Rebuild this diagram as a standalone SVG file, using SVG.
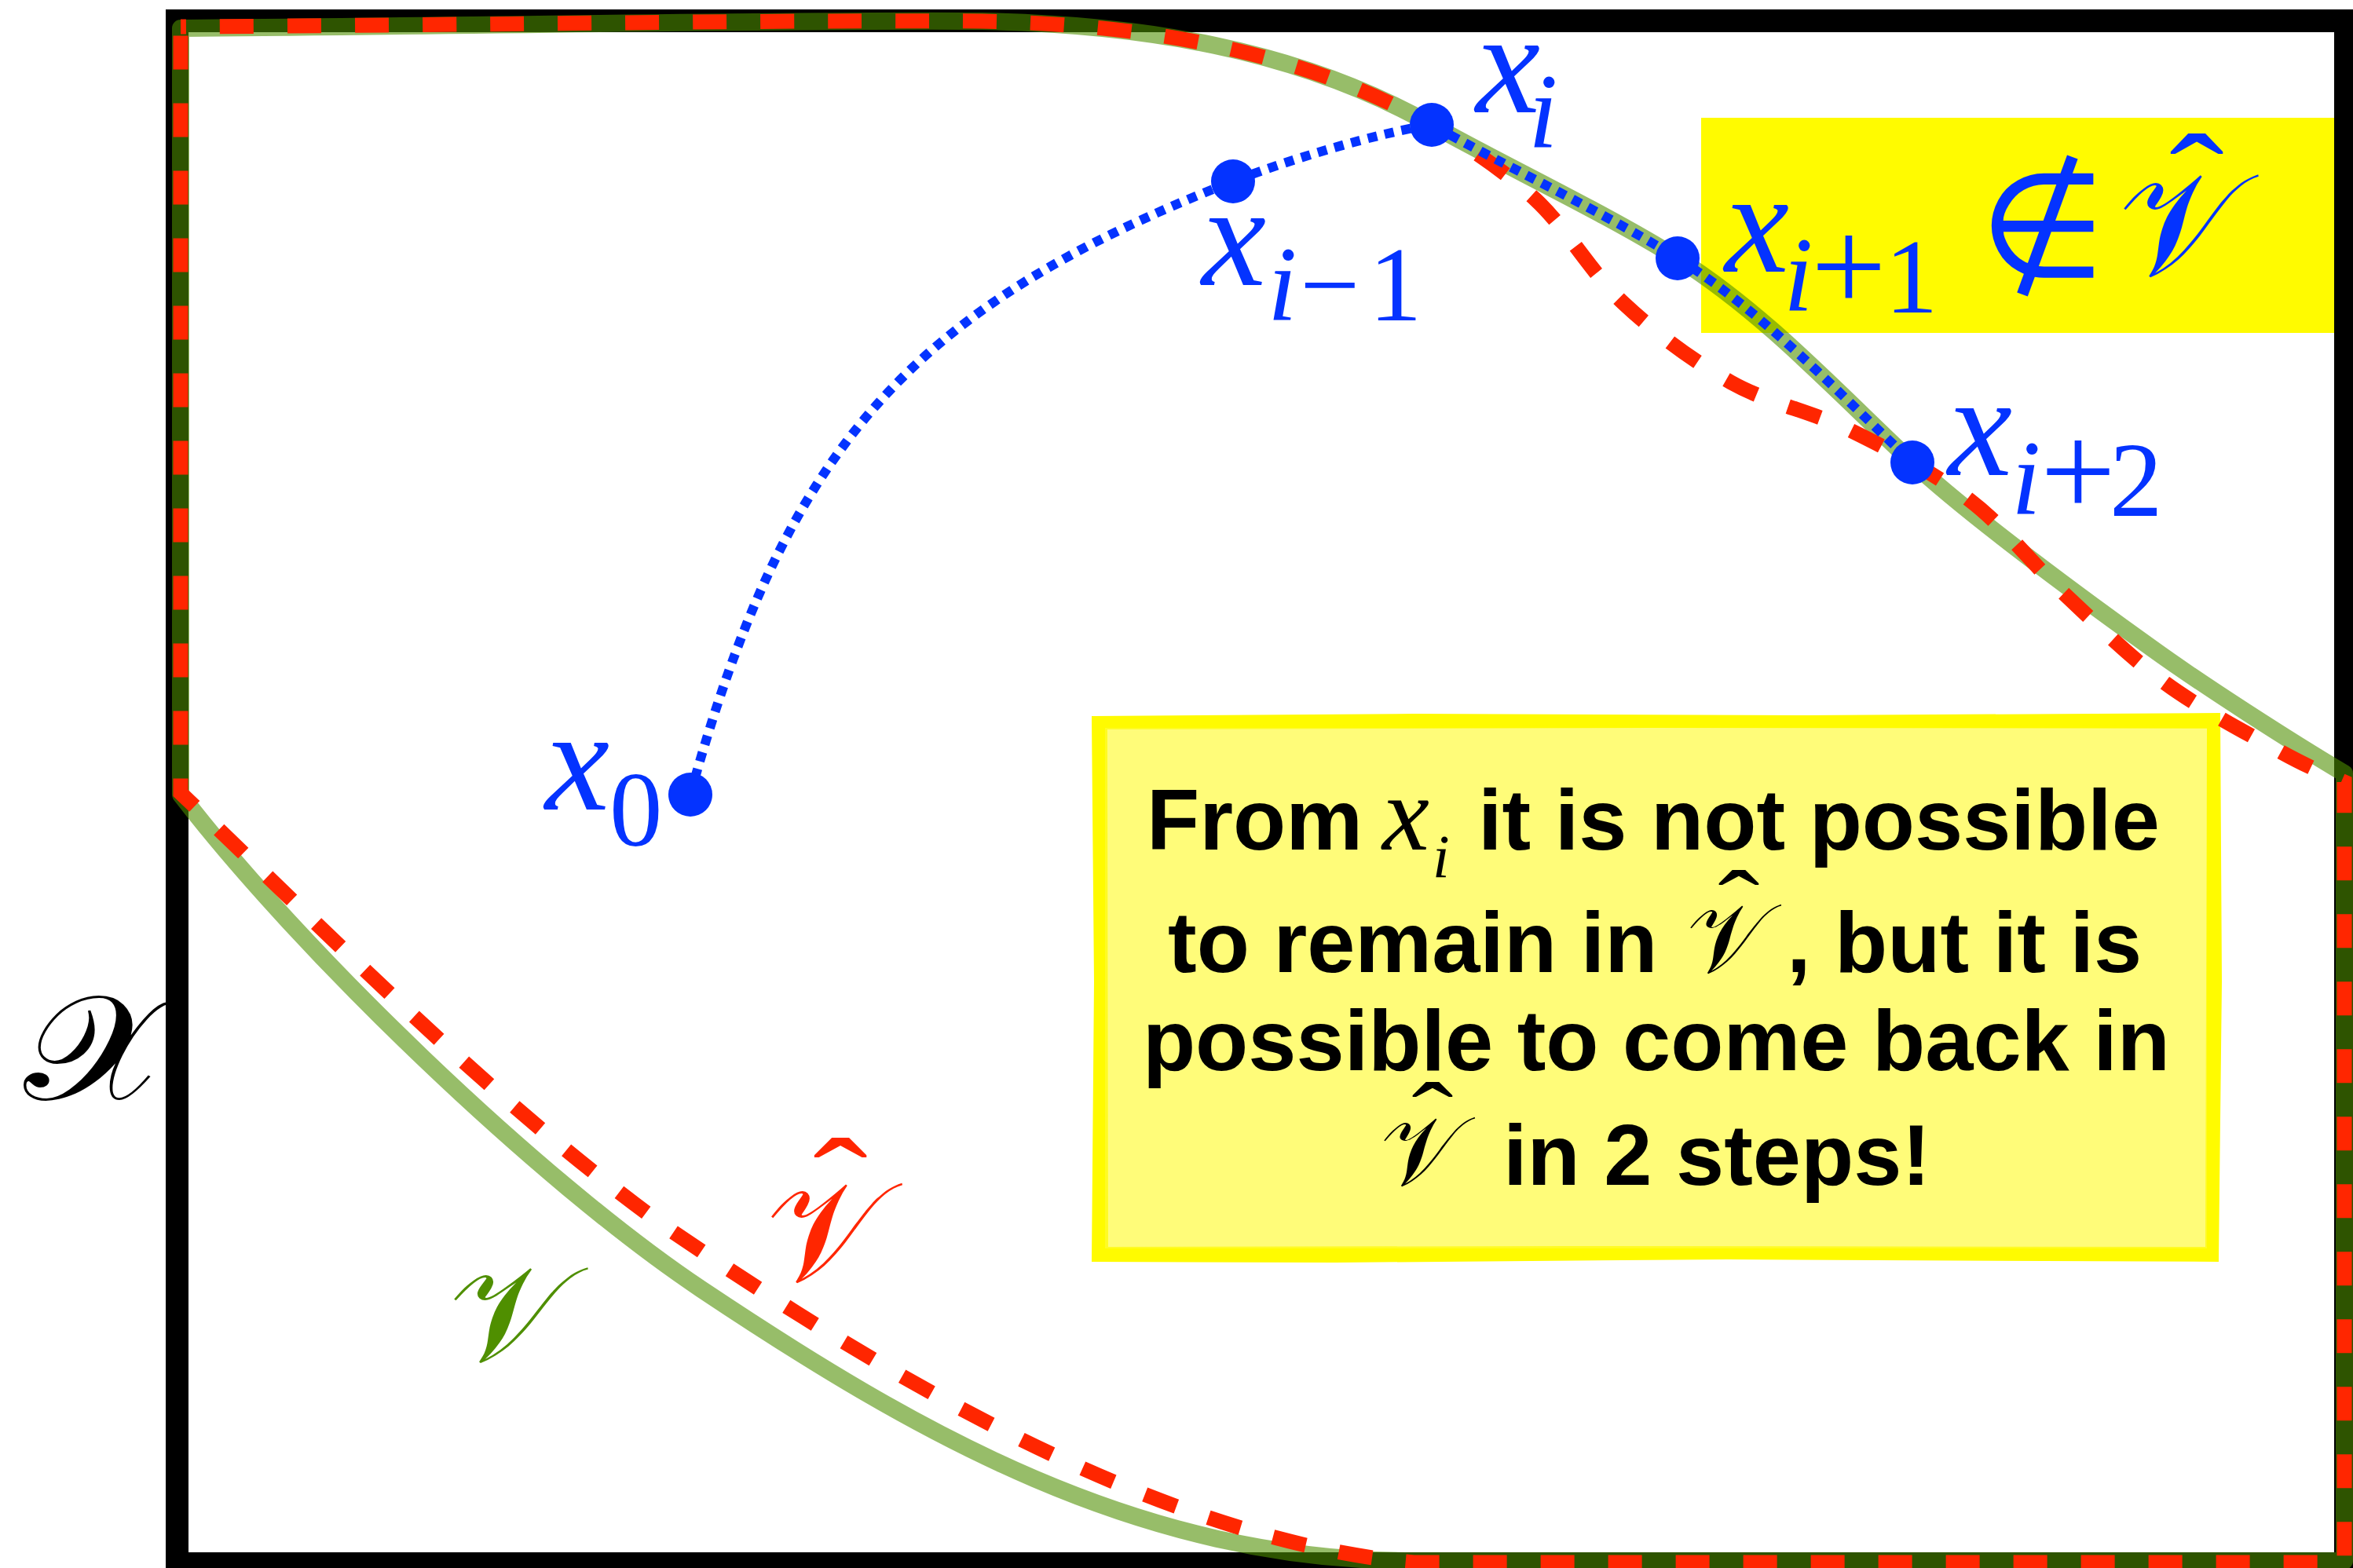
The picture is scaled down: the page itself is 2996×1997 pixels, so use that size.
<svg xmlns="http://www.w3.org/2000/svg" width="2996" height="1997" viewBox="0 0 2996 1997">
<style>
.frame{fill:none;stroke:#000;stroke-width:29}
.vset{fill:none;stroke:#4F8F00;stroke-opacity:0.59;stroke-width:22;stroke-linejoin:round}
.vhat{fill:none;stroke:#FF2600;stroke-width:19;stroke-dasharray:43 43;stroke-dashoffset:36}
.traj{fill:none;stroke:#0433FF;stroke-width:12;stroke-dasharray:12 10}
.pt{fill:#0433FF}
.m{font-family:"Liberation Serif","Times New Roman",serif;fill:#0433FF}
.it{font-style:italic}
.scr{font-family:"DejaVu Serif","DejaVu Sans",serif;font-style:normal}
.hat{font-family:"Liberation Serif","Times New Roman",serif;text-anchor:middle}
.note{font-family:"Liberation Sans",Arial,Helvetica,sans-serif;font-weight:bold;font-size:110px;fill:#000}
</style>
<rect width="2996" height="1997" fill="#fff"/>
<g id="box-notin">
<rect x="2166" y="150" width="820" height="274" fill="#FFFB00"/>
</g>
<g id="frame-X">
<rect class="frame" x="225.5" y="26.5" width="2761" height="1965"/>
</g>
<g id="note-box">
<rect x="1400" y="920" width="1417" height="677" fill="#FFFC79" stroke="#FFFB00" stroke-width="14"/>
<path d="M1393 915 L1800 912 L2300 914 L2824 911 L2826 1250 L2822 1604 L2200 1601 L1700 1605 L1393 1604 L1396 1250 Z" fill="none" stroke="#FFFB00" stroke-width="6"/>
<path d="M1408 927 L2100 925 L2812 926 L2810 1590 L2000 1589 L1409 1590 Z" fill="none" stroke="#FFFB00" stroke-width="4" stroke-opacity="0.7"/>
</g>
<g id="connectors">
<path id="set-V" class="vset" d="M230 36 C600 33 1000 25 1250 27 C1450 31 1649 61 1823 159 C1914 210 2047 273 2136 329 C2246 398 2340 500 2435 589 C2508 657 2658 767 2739 825 C2804 872 2916 944 2985 985 L2985 1988 L1800 1988 C1450 1988 1167 1825 893 1642 C685 1503 382 1210 230 1012 Z"/>
<path id="set-Vhat" class="vhat" d="M230 34 C600 32 1000 25 1250 27 C1450 31 1649 61 1823 159 C1865.5 184.7 1914.3 216.2 1955 254 C1995.7 291.8 2025.5 347.2 2067 386 C2108.5 424.8 2155.5 459.8 2204 487 C2252.5 514.2 2307.3 524 2358 549 C2408.7 574 2463.2 602.7 2508 637 C2552.8 671.3 2585.5 716.2 2627 755 C2668.5 793.8 2711 836.3 2757 870 C2803 903.7 2865 936 2903 957 C2941 978 2960 985 2985 996 L2985 1990 L1800 1990 C1480 1962 1130 1755 851 1565 C626 1403 431 1201 230 1010 Z"/>
<path id="trajectory" class="traj" d="M879 1012 C999 578 1152 393 1570 231 C1644 202 1760 168 1823 159 C1914 210 2047 273 2136 329 C2246 398 2340 500 2435 589"/>
</g>
<g id="x0"><circle class="pt" cx="879" cy="1012" r="28"/>
<text class="m" font-size="185"><tspan class="it" x="694" y="1031">x</tspan><tspan x="776" y="1077" font-size="135">0</tspan></text></g>
<g id="xim1"><circle class="pt" cx="1570" cy="231" r="28"/>
<text class="m" font-size="185"><tspan class="it" x="1530" y="363">x</tspan><tspan class="it" x="1614" y="408" font-size="135">i</tspan><tspan x="1655" y="408" font-size="135">−</tspan><tspan x="1743" y="408" font-size="135">1</tspan></text></g>
<g id="xi"><circle class="pt" cx="1823" cy="159" r="28"/>
<text class="m" font-size="185"><tspan class="it" x="1879" y="143">x</tspan><tspan class="it" x="1946" y="188" font-size="135">i</tspan></text></g>
<g id="xip1"><circle class="pt" cx="2136" cy="329" r="28"/>
<text class="m" font-size="185"><tspan class="it" x="2196" y="346">x</tspan><tspan class="it" x="2271" y="396" font-size="135">i</tspan><tspan x="2306" y="396" font-size="170">+</tspan><tspan x="2400" y="398" font-size="135">1</tspan></text>
<text class="m" x="2520" y="352" font-size="185" font-family="Liberation Serif,DejaVu Serif,serif">∉</text>
<text class="m scr" x="2698" y="350" font-size="185">𝒱</text>
<text class="m hat" transform="translate(2797 291) scale(1 0.83)" font-size="210">ˆ</text></g>
<g id="xip2"><circle class="pt" cx="2435" cy="589" r="28"/>
<text class="m" font-size="185"><tspan class="it" x="2480" y="605">x</tspan><tspan class="it" x="2561" y="655" font-size="135">i</tspan><tspan x="2598" y="657" font-size="170">+</tspan><tspan x="2686" y="657" font-size="135">2</tspan></text></g>
<g id="label-X"><text class="scr" transform="translate(30 1400) scale(1.15 1)" font-size="188" fill="#000">𝒳</text></g>
<g id="label-V"><text class="scr" transform="translate(572 1733) scale(1.07 1)" font-size="172" fill="#4F8F00">𝒱</text></g>
<g id="label-Vhat"><text class="scr" x="976" y="1631" font-size="180" fill="#FF2600">𝒱</text>
<text class="hat" transform="translate(1070 1566) scale(1 0.8)" font-size="210" fill="#FF2600">ˆ</text></g>
<g id="note-text">
<text class="note" y="1082"><tspan x="1460">From</tspan><tspan x="1760" font-family="Liberation Serif,serif" font-weight="normal" font-style="italic" font-size="135">x</tspan><tspan x="1824" y="1117" font-family="Liberation Serif,serif" font-weight="normal" font-style="italic" font-size="78">i</tspan><tspan x="1882" y="1082">it is not possible</tspan></text>
<text class="note" y="1238"><tspan x="2148" font-family="DejaVu Serif,serif" font-weight="normal" font-size="125">𝒱</tspan><tspan x="1487">to remain in</tspan><tspan x="2275">, but it is</tspan></text>
<text class="hat" transform="translate(2214 1197) scale(1 0.79)" font-size="160" fill="#000">ˆ</text>
<text class="note" x="2109" y="1363" text-anchor="middle">possible to come back in</text>
<text class="note" y="1509"><tspan x="1758" font-family="DejaVu Serif,serif" font-weight="normal" font-size="125">𝒱</tspan><tspan x="1914">in 2 steps!</tspan></text>
<text class="hat" transform="translate(1824 1467) scale(1 0.79)" font-size="160" fill="#000">ˆ</text>
</g>
</svg>
